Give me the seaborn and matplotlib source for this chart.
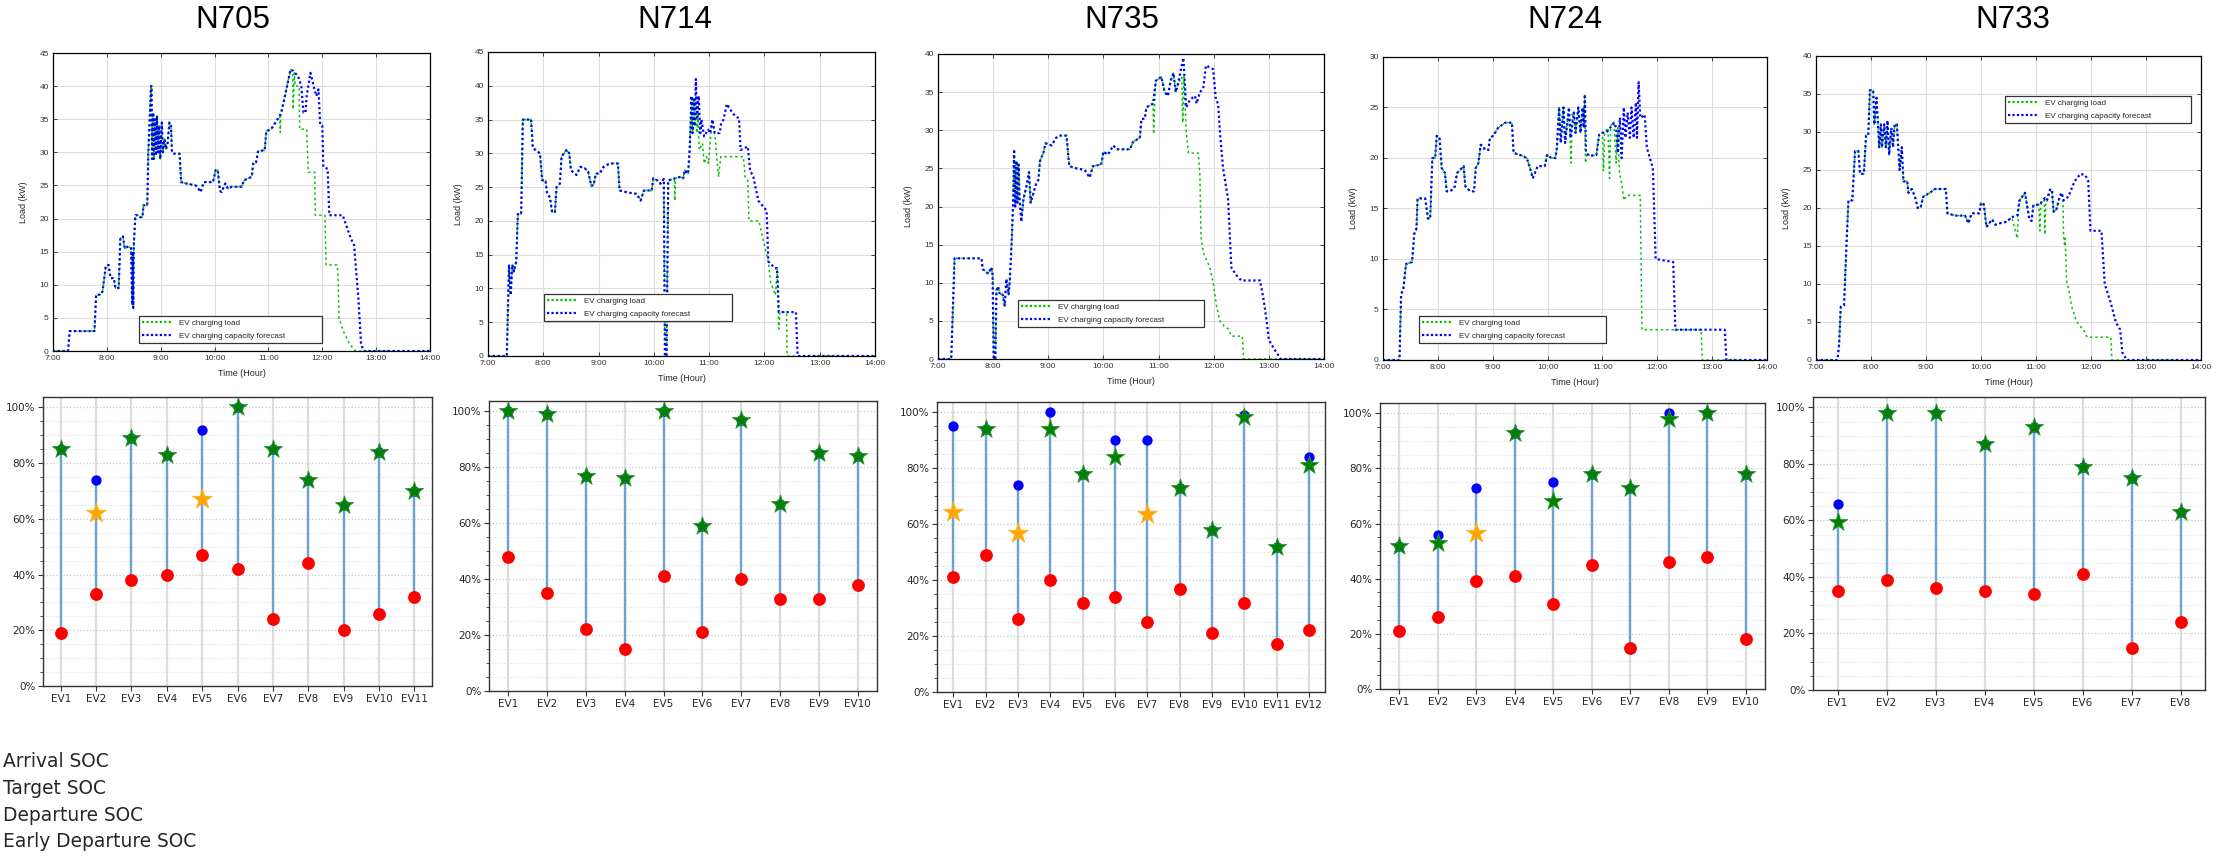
import numpy as np
import pandas as pd
import matplotlib
matplotlib.use("Agg")
import matplotlib.pyplot as plt
import seaborn as sns
from matplotlib.lines import Line2D

# ---------------- DATA: top panels (time in decimal hours, load in kW) ----------------
N705_FC_T = [7.00, 7.28, 7.31, 7.77, 7.80, 7.88, 7.92, 7.98, 8.03, 8.07, 8.13, 8.16, 8.22, 8.25, 8.30,
             8.33, 8.40, 8.45, 8.47, 8.48, 8.49, 8.50, 8.53, 8.59, 8.62, 8.66, 8.68, 8.75, 8.77, 8.82,
             8.83, 8.84, 8.86, 8.87, 8.89, 8.91, 8.93, 8.95, 8.97, 8.99, 9.02, 9.04, 9.07, 9.10, 9.13,
             9.16, 9.19, 9.21, 9.23, 9.35, 9.38, 9.47, 9.65, 9.70, 9.74, 9.80, 9.97, 10.02, 10.06,
             10.10, 10.13, 10.20, 10.25, 10.32, 10.50, 10.55, 10.69, 10.72, 10.77, 10.81, 10.93, 10.96,
             11.05, 11.17, 11.24, 11.32, 11.41, 11.46, 11.55, 11.61, 11.65, 11.69, 11.71, 11.78, 11.84,
             11.89, 11.93, 11.96, 12.00, 12.02, 12.10, 12.13, 12.38, 12.53, 12.59, 12.67, 12.72, 12.77, 14.00]
N705_FC_V = [0, 0, 3, 3, 8.5, 8.5, 9, 12.8, 13, 11, 11, 9.5, 9.5, 17, 17.3,
             15.5, 15.8, 15.5, 7, 15, 6.5, 16, 20.5, 20.5, 20.2, 20.2, 22, 22, 30, 40,
             40, 29, 36, 29, 35, 29.5, 35.5, 30, 34, 29, 34.5, 30, 32, 30.5, 31.5,
             34.5, 34, 30, 29.8, 29.8, 25.5, 25.3, 25.0, 24.5, 24.0, 25.5, 25.5, 27.3, 27.3,
             24.2, 24.0, 25.3, 24.5, 24.8, 24.8, 25.8, 26.3, 28.5, 28.5, 30.2, 30.3, 33.2,
             33.5, 35.0, 36.0, 39.0, 42.5, 42.3, 41.5, 40.0, 36.0, 36.0, 38.5, 42.0, 40.0,
             38.5, 39.5, 34.2, 34.0, 27.8, 27.5, 20.5, 20.5, 17.0, 16.0, 8.0, 1.0, 0, 0]
N705_LOAD_SPLIT = 11.2
N705_LOAD_T = [11.21, 11.22, 11.23, 11.32, 11.41, 11.45, 11.46, 11.48, 11.50, 11.57, 11.58, 11.71, 11.74,
               11.86, 11.87, 12.05, 12.07, 12.27, 12.29, 12.31, 12.39, 12.51, 12.62, 14.00]
N705_LOAD_V = [35.5, 33, 36, 39, 42.5, 42, 36.5, 42, 40, 40, 33.5, 33.5, 27,
               27, 20.5, 20.5, 13, 13, 12, 5, 3, 1, 0, 0]

N714_FC_T = [7.00, 7.34, 7.38, 7.41, 7.44, 7.47, 7.51, 7.54, 7.60, 7.63, 7.78, 7.81, 7.94, 7.98, 8.04,
             8.07, 8.12, 8.16, 8.21, 8.24, 8.30, 8.33, 8.42, 8.47, 8.50, 8.60, 8.67, 8.75, 8.81, 8.87,
             8.91, 8.95, 9.02, 9.09, 9.20, 9.35, 9.38, 9.53, 9.69, 9.76, 9.82, 9.96, 9.99, 10.06, 10.12,
             10.18, 10.20, 10.23, 10.26, 10.35, 10.47, 10.53, 10.56, 10.62, 10.65, 10.68, 10.70, 10.72,
             10.74, 10.76, 10.78, 10.81, 10.84, 10.86, 10.91, 10.98, 11.02, 11.06, 11.10, 11.19, 11.22,
             11.26, 11.32, 11.38, 11.47, 11.54, 11.57, 11.70, 11.74, 11.80, 11.89, 12.04, 12.07, 12.19,
             12.23, 12.26, 12.57, 12.60, 14.00]
N714_FC_V = [0, 0, 13.5, 9, 13.5, 12.5, 14, 21, 21, 35, 35, 30.8, 30, 26, 26,
             24, 23.5, 21.3, 21.3, 25, 25.5, 29.5, 30.5, 30, 27.5, 26.8, 28, 27.8, 27.3, 25.2,
             25.3, 27, 27, 28, 28.5, 28.5, 24.5, 24.2, 24, 23, 24.5, 24.5, 26.3, 26, 25.5,
             26.2, 0, 0, 26, 26.2, 26.5, 26.3, 27.5, 27, 31, 38.5, 33, 38,
             34, 41, 35, 38.5, 33, 35, 32.5, 33.5, 33, 35, 33, 33, 34.5,
             35, 37.3, 36.5, 35.5, 35.2, 30.5, 31, 27.5, 26.5, 23, 21.5, 14, 13,
             13, 6.5, 6.5, 0, 0]
N714_LOAD_SPLIT = 10.36
N714_LOAD_T = [10.37, 10.38, 10.39, 10.47, 10.53, 10.56, 10.62, 10.65, 10.68, 10.70, 10.72, 10.74, 10.76,
               10.78, 10.80, 10.82, 10.85, 10.88, 10.91, 10.95, 10.99, 11.05, 11.10, 11.17, 11.21, 11.62,
               11.65, 11.70, 11.72, 11.90, 11.94, 12.07, 12.11, 12.20, 12.23, 12.26, 12.28, 12.40, 12.41, 14.00]
N714_LOAD_V = [26.2, 23, 26.3, 26.5, 26.3, 27.5, 27, 31, 38.5, 33, 38, 34, 39,
               33, 36, 30.5, 31, 31.5, 28.5, 29.5, 28.5, 35, 33, 26.5, 29.5, 29.5,
               26.5, 26, 20, 20, 18.5, 14, 11, 9, 13, 4, 6.5, 6.5, 0, 0]

N735_FC_T = [7.00, 7.24, 7.30, 7.79, 7.81, 7.91, 7.97, 7.99, 8.01, 8.04, 8.06, 8.09, 8.12, 8.17, 8.21,
             8.24, 8.28, 8.30, 8.34, 8.36, 8.38, 8.40, 8.42, 8.44, 8.46, 8.48, 8.51, 8.55, 8.60, 8.65,
             8.68, 8.72, 8.78, 8.82, 8.85, 8.91, 8.95, 9.06, 9.14, 9.20, 9.33, 9.38, 9.51, 9.66, 9.75,
             9.81, 9.96, 10.00, 10.08, 10.18, 10.24, 10.48, 10.54, 10.66, 10.69, 10.75, 10.78, 10.90,
             10.95, 11.05, 11.11, 11.17, 11.22, 11.27, 11.31, 11.35, 11.42, 11.45, 11.50, 11.57, 11.66,
             11.69, 11.75, 11.81, 11.86, 11.99, 12.04, 12.08, 12.11, 12.17, 12.26, 12.32, 12.41, 12.50,
             12.84, 12.90, 12.96, 13.00, 13.08, 13.17, 13.21, 14.00]
N735_FC_V = [0, 0, 13.2, 13.2, 11.8, 11.2, 12, 11, 0, 0, 9, 9.5, 8.5, 8.5, 7,
             10.5, 8.5, 10, 16, 20, 27.5, 20, 26, 20.5, 25.5, 21, 18, 21, 22.5, 24.5,
             20.5, 21.5, 23, 23.5, 26, 27, 28.3, 28, 29, 29.3, 29.3, 25.3, 25, 24.8, 23.8,
             25.3, 25.5, 27.2, 26.8, 28, 27.5, 27.5, 28.5, 29, 31.5, 31.5, 33, 33.5,
             36.5, 37, 35, 34.5, 36.5, 37.5, 35, 36, 38.5, 39.5, 33, 34, 34.5,
             33.5, 35, 35.5, 38.5, 38, 34, 33.5, 30, 25, 21, 12, 11, 10.3,
             10.3, 8, 5, 2.5, 1.5, 0.5, 0, 0]
N735_LOAD_SPLIT = 10.895
N735_LOAD_T = [10.90, 10.91, 10.93, 10.95, 11.05, 11.11, 11.17, 11.22, 11.27, 11.31, 11.35, 11.42, 11.44,
               11.46, 11.50, 11.54, 11.72, 11.75, 11.77, 11.81, 11.93, 11.99, 12.05, 12.11, 12.20, 12.26,
               12.32, 12.52, 12.54, 14.00]
N735_LOAD_V = [33.5, 29.5, 33.5, 36.5, 37, 35, 34.5, 36.5, 37.5, 35, 36, 37, 31,
               37, 30, 27, 27, 24, 16, 14, 12, 10, 7, 5, 4.2, 4,
               3, 3, 0, 0]

N724_FC_T = [7.00, 7.30, 7.33, 7.37, 7.42, 7.53, 7.57, 7.61, 7.63, 7.77, 7.82, 7.86, 7.90, 7.95, 7.98,
             8.03, 8.07, 8.13, 8.16, 8.22, 8.30, 8.35, 8.47, 8.50, 8.59, 8.66, 8.69, 8.74, 8.78, 8.82,
             8.86, 8.92, 8.95, 9.01, 9.10, 9.23, 9.35, 9.38, 9.50, 9.62, 9.68, 9.73, 9.82, 9.95, 9.99,
             10.07, 10.14, 10.17, 10.21, 10.24, 10.29, 10.32, 10.39, 10.42, 10.48, 10.51, 10.56, 10.60,
             10.64, 10.66, 10.68, 10.70, 10.77, 10.89, 10.94, 11.00, 11.07, 11.17, 11.21, 11.25, 11.28,
             11.32, 11.35, 11.39, 11.42, 11.46, 11.50, 11.53, 11.57, 11.61, 11.63, 11.66, 11.69, 11.71,
             11.77, 11.81, 11.92, 11.97, 12.29, 12.33, 13.23, 13.26, 14.00]
N724_FC_V = [0, 0, 6.5, 7, 9.5, 9.7, 12.5, 13, 16, 16, 14, 14, 20, 20, 22.2,
             22, 19, 18.5, 16.7, 16.7, 17, 18.5, 19.2, 17.2, 16.7, 16.7, 19, 19.5, 21.3, 21.2,
             20.8, 20.8, 22, 22.2, 23, 23.5, 23.5, 20.5, 20.3, 20, 19, 18, 19.2, 19.2, 20.3,
             20, 20, 21, 25, 21.5, 25, 21.5, 25, 22, 24.5, 22.5, 25, 22.5,
             25, 23, 26.3, 20.5, 20.2, 20.3, 22.3, 22.5, 22.5, 23.2, 23.5, 23, 20.5,
             24, 20, 25, 22, 24.5, 22, 25, 22, 25.5, 22, 27.5, 24, 24,
             24.3, 21, 19, 10, 9.7, 3, 3, 0, 0]
N724_LOAD_SPLIT = 10.40
N724_LOAD_T = [10.41, 10.43, 10.45, 10.48, 10.51, 10.56, 10.60, 10.64, 10.66, 10.68, 10.69, 10.72, 10.77,
               10.89, 10.94, 11.00, 11.02, 11.04, 11.10, 11.13, 11.15, 11.21, 11.25, 11.28, 11.31, 11.35,
               11.39, 11.44, 11.69, 11.72, 12.80, 12.82, 14.00]
N724_LOAD_V = [22, 19.5, 24.5, 24.5, 22.5, 25, 22.5, 25, 23, 26.3, 19.5, 20.5, 20.2,
               20.3, 22.3, 22.5, 18.7, 22.5, 23, 18, 23.2, 23.5, 19.5, 23, 18.5, 17.5,
               15.8, 16.3, 16.3, 3, 3, 0, 0]

N733_FC_T = [7.00, 7.39, 7.42, 7.45, 7.51, 7.55, 7.59, 7.66, 7.71, 7.77, 7.80, 7.87, 7.91, 7.95, 7.98,
             8.04, 8.06, 8.10, 8.15, 8.18, 8.20, 8.24, 8.27, 8.30, 8.33, 8.37, 8.40, 8.43, 8.47, 8.52,
             8.56, 8.59, 8.66, 8.68, 8.74, 8.80, 8.85, 8.90, 8.95, 9.07, 9.16, 9.36, 9.39, 9.53, 9.71,
             9.77, 9.83, 9.97, 10.00, 10.05, 10.10, 10.20, 10.26, 10.35, 10.47, 10.56, 10.66, 10.70,
             10.80, 10.88, 10.92, 10.95, 11.07, 11.16, 11.20, 11.26, 11.29, 11.32, 11.37, 11.43, 11.47,
             11.50, 11.59, 11.70, 11.81, 11.90, 11.95, 11.99, 12.19, 12.25, 12.36, 12.45, 12.53, 12.57,
             12.65, 14.00]
N733_FC_V = [0, 0, 2, 7, 7.2, 14.5, 21, 21, 27.5, 27.5, 24.5, 24.5, 29.5, 29.5, 35.5,
             35.5, 31, 34.5, 28, 31, 28, 31, 28, 31.5, 27, 30.5, 28, 31, 31, 25,
             28, 23.5, 23.5, 22, 22.5, 21.5, 20, 20, 21.5, 22, 22.5, 22.5, 19.3, 19, 19,
             18, 19.3, 19.3, 20.7, 20.5, 17.5, 18.5, 17.8, 18, 18.2, 18.8, 19, 21,
             22, 18.5, 18.3, 20.3, 20.5, 21.3, 21, 22.5, 22.3, 19.5, 19.8, 21.5, 22,
             21, 21.5, 23.5, 24.5, 24.3, 23.5, 17, 17, 10, 7.5, 5, 4, 1,
             0, 0]
N733_LOAD_SPLIT = 10.655
N733_LOAD_T = [10.66, 10.68, 10.70, 10.80, 10.88, 10.92, 10.95, 11.05, 11.07, 11.09, 11.15, 11.16, 11.18,
               11.26, 11.29, 11.32, 11.37, 11.43, 11.47, 11.49, 11.50, 11.52, 11.53, 11.56, 11.59, 11.65,
               11.74, 11.86, 11.93, 12.36, 12.38, 14.00]
N733_LOAD_V = [16, 19.5, 21, 22, 18.5, 18.3, 20.3, 20.5, 17, 20.8, 21, 16.5, 21,
               22.5, 22.3, 19.5, 19.8, 21.5, 22, 21, 16.5, 15, 16, 10, 9.5, 7,
               5, 4, 3, 3, 0, 0]

NODE_NAMES = ["N705", "N714", "N735", "N724", "N733"]
Y_MAX = [45, 45, 40, 30, 40]
Y_STEP = [5, 5, 5, 5, 5]
TIME_TICKS = [7, 8, 9, 10, 11, 12, 13, 14]
TIME_LABELS = ["7:00", "8:00", "9:00", "10:00", "11:00", "12:00", "13:00", "14:00"]
LOAD_LABEL = "EV charging load"
FC_LABEL = "EV charging capacity forecast"

# ---------------- DATA: bottom panels (SOC in %) ----------------
N705_ARR = [19, 33, 38, 40, 47, 42, 24, 44, 20, 26, 32]
N705_TGT = [85, 74, 89, 83, 92, 100, 85, 74, 65, 84, 70]
N705_DEP = [85, None, 89, 83, None, 100, 85, 74, 65, 84, 70]
N705_EARLY = [None, 62, None, None, 67, None, None, None, None, None, None]

N714_ARR = [48, 35, 22, 15, 41, 21, 40, 33, 33, 38]
N714_TGT = [100, 99, 77, 76, 100, 59, 97, 67, 85, 84]
N714_DEP = [100, 99, 77, 76, 100, 59, 97, 67, 85, 84]
N714_EARLY = [None] * 10

N735_ARR = [41, 49, 26, 40, 32, 34, 25, 37, 21, 32, 17, 22]
N735_TGT = [95, 94, 74, 100, 78, 90, 90, 73, 58, 99, 52, 84]
N735_DEP = [None, 94, None, 94, 78, 84, None, 73, 58, 98.5, 52, 81]
N735_EARLY = [64.5, None, 57, None, None, None, 63.5, None, None, None, None, None]

N724_ARR = [21, 26, 39, 41, 31, 45, 15, 46, 48, 18]
N724_TGT = [52, 56, 73, 93, 75, 78, 73, 100, 100, 78]
N724_DEP = [52, 53, None, 93, 68, 78, 73, 98, 100, 78]
N724_EARLY = [None, None, 56.5, None, None, None, None, None, None, None]

N733_ARR = [35, 39, 36, 35, 34, 41, 15, 24]
N733_TGT = [66, 98, 98, 87, 93, 79, 75, 63]
N733_DEP = [59.5, 98, 98, 87, 93, 79, 75, 63]
N733_EARLY = [None] * 8

SOC_LEGEND = ["Arrival SOC", "Target SOC", "Departure SOC", "Early Departure SOC"]
SOC_TICKS = [0, 20, 40, 60, 80, 100]

# ---------------- STYLE / LAYOUT ----------------
sns.set_theme(style="white")
plt.rcParams["font.family"] = ["DejaVu Sans"]
TOPFONT = "Liberation Sans"
W, H = 2231, 856

fig = plt.figure(figsize=(W / 100, H / 100), dpi=100, facecolor="white")


def box(l, t, r, b):
    return [l / W, 1 - b / H, (r - l) / W, (b - t) / H]


TOP_BOXES = [box(53, 53, 430, 351), box(488, 52, 875, 356), box(938, 54, 1324, 359),
             box(1383, 57, 1767, 360), box(1816, 56, 2201, 360)]
BOT_BOXES = [box(43, 397, 432, 686), box(489, 401, 877, 691), box(937, 402, 1325, 692),
             box(1380, 403, 1765, 689), box(1813, 397, 2205, 690)]
TITLE_X = [233, 675, 1122, 1565, 2013]
LEG_ANCHORS = [("lower left", (0.228, 0.027, 0.485, 0.1)),
               ("lower left", (0.145, 0.115, 0.485, 0.1)),
               ("lower left", (0.207, 0.105, 0.483, 0.1)),
               ("lower left", (0.094, 0.056, 0.487, 0.1)),
               ("upper left", (0.49, 0.967, 0.483, -0.1))]

top_series = [
    (N705_FC_T, N705_FC_V, N705_LOAD_SPLIT, N705_LOAD_T, N705_LOAD_V),
    (N714_FC_T, N714_FC_V, N714_LOAD_SPLIT, N714_LOAD_T, N714_LOAD_V),
    (N735_FC_T, N735_FC_V, N735_LOAD_SPLIT, N735_LOAD_T, N735_LOAD_V),
    (N724_FC_T, N724_FC_V, N724_LOAD_SPLIT, N724_LOAD_T, N724_LOAD_V),
    (N733_FC_T, N733_FC_V, N733_LOAD_SPLIT, N733_LOAD_T, N733_LOAD_V),
]
bot_series = [
    (N705_ARR, N705_TGT, N705_DEP, N705_EARLY),
    (N714_ARR, N714_TGT, N714_DEP, N714_EARLY),
    (N735_ARR, N735_TGT, N735_DEP, N735_EARLY),
    (N724_ARR, N724_TGT, N724_DEP, N724_EARLY),
    (N733_ARR, N733_TGT, N733_DEP, N733_EARLY),
]

GREEN = "#00c000"
BLUE = "#0000ff"

for i in range(5):
    fc_t, fc_v, split, ld_t, ld_v = top_series[i]
    load_t = [t for t in fc_t if t < split] + ld_t
    load_v = [v for t, v in zip(fc_t, fc_v) if t < split] + ld_v
    df_load = pd.DataFrame({"t": load_t, "v": load_v})
    df_fc = pd.DataFrame({"t": fc_t, "v": fc_v})

    ax = fig.add_axes(TOP_BOXES[i])
    ax.set_facecolor("white")
    sns.lineplot(data=df_load, x="t", y="v", ax=ax, estimator=None, sort=False,
                 color=GREEN, linestyle=(1.6, (1.5, 2.0)), linewidth=1.1, label=LOAD_LABEL, zorder=3)
    sns.lineplot(data=df_fc, x="t", y="v", ax=ax, estimator=None, sort=False,
                 color=BLUE, linestyle=(0, (1, 1.2)), linewidth=1.6, label=FC_LABEL, zorder=4)
    ax.set_xlim(7, 14)
    ax.set_ylim(0, Y_MAX[i])
    ax.set_xticks(TIME_TICKS, labels=TIME_LABELS, fontsize=6, fontfamily=TOPFONT, color="#333333")
    yt = list(range(0, Y_MAX[i] + 1, Y_STEP[i]))
    ax.set_yticks(yt, labels=[str(v) for v in yt], fontsize=6, fontfamily=TOPFONT, color="#333333")
    ax.tick_params(direction="in", top=True, right=True, bottom=True, left=True,
                   length=3, width=0.6, pad=3)
    ax.grid(True, color="#dddddd", linewidth=0.8)
    for s in ax.spines.values():
        s.set_color("black")
        s.set_linewidth(0.9)
    ax.set_xlabel("Time (Hour)", fontsize=6.5, fontfamily=TOPFONT, labelpad=5)
    ax.set_ylabel("Load (kW)", fontsize=6.5, fontfamily=TOPFONT, labelpad=8)
    loc, anchor = LEG_ANCHORS[i]
    leg = ax.legend(loc=loc, bbox_to_anchor=anchor, mode="expand",
                    prop={"family": TOPFONT, "size": 5.8},
                    frameon=True, fancybox=False, edgecolor="#333333", framealpha=1,
                    handlelength=3.8, borderpad=0.4, labelspacing=0.65, borderaxespad=0)
    leg.get_frame().set_linewidth(0.9)
    for h in leg.get_lines():
        h.set_linestyle((0, (1, 1)))
        h.set_linewidth(1.6)
    fig.text(TITLE_X[i] / W, 1 - 20 / H, NODE_NAMES[i], fontsize=22.5, ha="center", va="center",
             fontfamily=TOPFONT, color="black")

for i in range(5):
    arr, tgt, dep, early = bot_series[i]
    n = len(arr)
    xs = np.arange(1, n + 1)
    df = pd.DataFrame({"x": xs,
                       "arr": pd.to_numeric(pd.Series(arr), errors="coerce"),
                       "tgt": pd.to_numeric(pd.Series(tgt), errors="coerce"),
                       "dep": pd.to_numeric(pd.Series(dep), errors="coerce"),
                       "early": pd.to_numeric(pd.Series(early), errors="coerce")})
    ax = fig.add_axes(BOT_BOXES[i])
    ax.set_facecolor("white")
    ax.vlines(df["x"], df["arr"], df["tgt"], color="#6aa3d2", linewidth=1.7, zorder=2)
    sns.scatterplot(data=df, x="x", y="arr", ax=ax, color="#ff0000", s=85, linewidth=0, zorder=3)
    sns.scatterplot(data=df, x="x", y="tgt", ax=ax, color="#0000ff", s=55, linewidth=0, zorder=3)
    d1 = df.dropna(subset=["dep"])
    if len(d1):
        sns.scatterplot(data=d1, x="x", y="dep", ax=ax, color="#008000", marker="*", s=190,
                        edgecolor="#2a9a2a", linewidth=0.6, zorder=4)
    d2 = df.dropna(subset=["early"])
    if len(d2):
        sns.scatterplot(data=d2, x="x", y="early", ax=ax, color="#ffa500", marker="*", s=230,
                        edgecolor="#ffb733", linewidth=0.6, zorder=4)
    ax.set_xlim(0.5, n + 0.5)
    ax.set_ylim(0, 103.7)
    ax.set_xticks(xs, labels=[f"EV{k}" for k in xs], fontsize=7.5, color="#262626")
    ax.set_yticks(SOC_TICKS, labels=[f"{v}%" for v in SOC_TICKS], fontsize=7.5, color="#262626")
    ax.set_yticks(list(range(0, 104, 5)), minor=True)
    ax.tick_params(axis="both", which="major", direction="out", length=3.5, width=0.8,
                   bottom=True, left=True, pad=2, color="#333333")
    ax.tick_params(axis="y", which="minor", direction="out", length=2, width=0.6, left=True,
                   color="#333333")
    ax.grid(True, axis="x", which="major", color="#dcdcdc", linewidth=1.6, zorder=0)
    ax.grid(True, axis="y", which="major", color="#c8c8c8", linestyle=":", linewidth=0.9)
    ax.grid(True, axis="y", which="minor", color="#dddddd", linestyle=":", linewidth=0.8)
    ax.set_axisbelow(True)
    ax.set_xlabel("")
    ax.set_ylabel("")
    for s in ax.spines.values():
        s.set_color("#333333")
        s.set_linewidth(1.0)

handles = [Line2D([], [], linestyle="none") for _ in SOC_LEGEND]
fig.legend(handles, SOC_LEGEND, loc="upper left", bbox_to_anchor=(3 / W, 1 - 752 / H),
           frameon=False, fontsize=13.4, handlelength=0, handletextpad=0, borderpad=0,
           borderaxespad=0, labelspacing=0.42, labelcolor="#262626")

fig.savefig("out.png", dpi=100, facecolor="white")
